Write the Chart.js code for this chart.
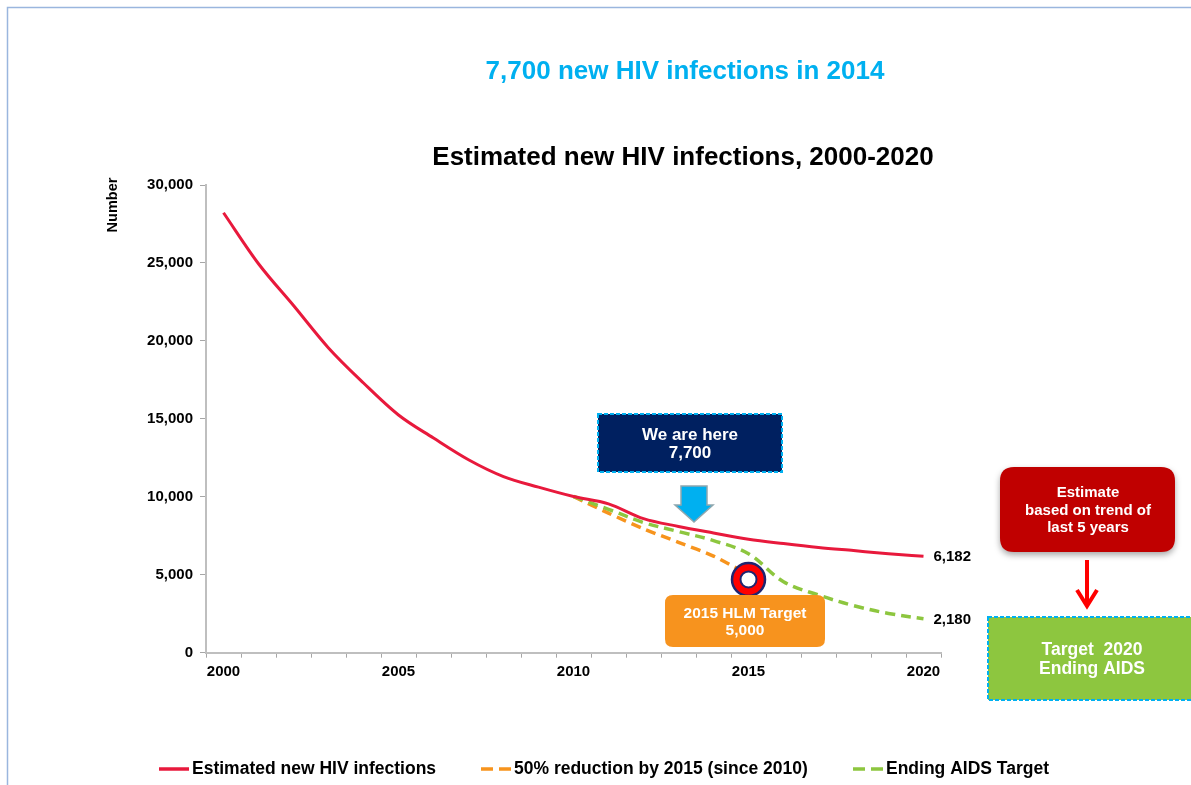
<!DOCTYPE html>
<html><head><meta charset="utf-8">
<script src="https://cdn.jsdelivr.net/npm/chart.js@4.4.1/dist/chart.umd.min.js"></script>
<style>html,body{margin:0;padding:0;background:#fff;overflow:hidden}canvas{display:block}</style>
</head><body>
<canvas id="c" width="1191" height="785"></canvas>
<script>
const years = ['2000','2001','2002','2003','2004','2005','2006','2007','2008','2009','2010','2011','2012','2013','2014','2015','2016','2017','2018','2019','2020'];
const estimatedInfections = [28220, 24950, 22270, 19550, 17300, 15250, 13770, 12380, 11300, 10620, 10020, 9550, 8600, 8100, 7680, 7280, 7000, 6750, 6550, 6350, 6182];
const halfReduction2015 = [null, null, null, null, null, null, null, null, null, null, 10020, 8950, 7950, 7080, 6200, 5000, null, null, null, null, null];
const endingAidsTarget = [null, null, null, null, null, null, null, null, null, null, 10020, 9200, 8350, 7770, 7190, 6350, 4550, 3700, 3020, 2520, 2180];
const hlmTargetMarker = [null, null, null, null, null, null, null, null, null, null, null, null, null, null, null, 4700, null, null, null, null, null];
const yTicks = [0, 5000, 10000, 15000, 20000, 25000, 30000];
const shownYearLabels = ['2000','2005','2010','2015','2020'];
const endLabels = ['6,182', '2,180'];

const FONT = '"Liberation Sans", Arial, Helvetica, sans-serif';

function roundRect(ctx, x, y, w, h, r) {
  ctx.beginPath();
  ctx.moveTo(x + r, y);
  ctx.lineTo(x + w - r, y);
  ctx.quadraticCurveTo(x + w, y, x + w, y + r);
  ctx.lineTo(x + w, y + h - r);
  ctx.quadraticCurveTo(x + w, y + h, x + w - r, y + h);
  ctx.lineTo(x + r, y + h);
  ctx.quadraticCurveTo(x, y + h, x, y + h - r);
  ctx.lineTo(x, y + r);
  ctx.quadraticCurveTo(x, y, x + r, y);
  ctx.closePath();
}

const decorations = {
  id: 'decorations',
  beforeDraw(chart) {
    const ctx = chart.ctx;
    ctx.save();
    ctx.fillStyle = '#fff';
    ctx.fillRect(0, 0, chart.width, chart.height);
    ctx.strokeStyle = '#9ab6de';
    ctx.lineWidth = 1.5;
    ctx.beginPath();
    ctx.moveTo(7.5, 790); ctx.lineTo(7.5, 7.5); ctx.lineTo(1195, 7.5);
    ctx.stroke();
    ctx.restore();
  },
  afterDraw(chart) {
    const ctx = chart.ctx;
    const xs = chart.scales.x, ys = chart.scales.y;
    ctx.save();
    ctx.textAlign = 'center';
    ctx.textBaseline = 'middle';
    ctx.fillStyle = '#00b0f0';
    ctx.font = 'bold 26px ' + FONT;
    ctx.fillText('7,700 new HIV infections in 2014', 685, 72);
    ctx.fillStyle = '#000';
    ctx.font = 'bold 26px ' + FONT;
    ctx.fillText('Estimated new HIV infections, 2000-2020', 683, 158);
    ctx.save();
    ctx.translate(113, 205);
    ctx.rotate(-Math.PI / 2);
    ctx.font = 'bold 14.5px ' + FONT;
    ctx.fillText('Number', 0, 0);
    ctx.restore();

    ctx.textAlign = 'left';
    ctx.font = 'bold 15px ' + FONT;
    const last = years.length - 1;
    ctx.fillText(endLabels[0], xs.getPixelForValue(last) + 10, ys.getPixelForValue(estimatedInfections[last]) + 1);
    ctx.fillText(endLabels[1], xs.getPixelForValue(last) + 10, ys.getPixelForValue(endingAidsTarget[last]) + 1);

    ctx.textAlign = 'center';
    ctx.fillStyle = '#002060';
    ctx.fillRect(598, 414, 184, 58);
    ctx.setLineDash([4, 2]);
    ctx.strokeStyle = '#00b0f0';
    ctx.lineWidth = 2;
    ctx.strokeRect(598, 414, 184, 58);
    ctx.setLineDash([]);
    ctx.fillStyle = '#fff';
    ctx.font = 'bold 17px ' + FONT;
    ctx.fillText('We are here', 690, 435);
    ctx.fillText('7,700', 690, 453);

    ctx.beginPath();
    ctx.moveTo(681, 486); ctx.lineTo(707, 486); ctx.lineTo(707, 505);
    ctx.lineTo(713, 505); ctx.lineTo(694, 522); ctx.lineTo(675, 505);
    ctx.lineTo(681, 505); ctx.closePath();
    ctx.fillStyle = '#00b0f0';
    ctx.fill();
    ctx.strokeStyle = '#8fa7ae';
    ctx.lineWidth = 1.5;
    ctx.stroke();

    roundRect(ctx, 665, 595, 160, 52, 8);
    ctx.fillStyle = '#f7931e';
    ctx.fill();
    ctx.fillStyle = '#fff';
    ctx.font = 'bold 15.5px ' + FONT;
    ctx.fillText('2015 HLM Target', 745, 614);
    ctx.fillText('5,000', 745, 631);

    ctx.save();
    ctx.shadowColor = 'rgba(0,0,0,0.35)';
    ctx.shadowBlur = 6;
    ctx.shadowOffsetY = 3;
    roundRect(ctx, 1000, 467, 175, 85, 14);
    ctx.fillStyle = '#c00000';
    ctx.fill();
    ctx.restore();
    ctx.fillStyle = '#fff';
    ctx.font = 'bold 15px ' + FONT;
    ctx.fillText('Estimate', 1088, 493);
    ctx.fillText('based on trend of', 1088, 511);
    ctx.fillText('last 5 years', 1088, 528);

    ctx.strokeStyle = '#ff0000';
    ctx.lineWidth = 4;
    ctx.lineCap = 'butt';
    ctx.beginPath();
    ctx.moveTo(1087, 560); ctx.lineTo(1087, 604);
    ctx.stroke();
    ctx.lineJoin = 'miter';
    ctx.beginPath();
    ctx.moveTo(1077, 590); ctx.lineTo(1087, 606); ctx.lineTo(1097, 590);
    ctx.stroke();

    ctx.fillStyle = '#8dc63f';
    ctx.fillRect(988, 617, 210, 83);
    ctx.setLineDash([4, 2]);
    ctx.strokeStyle = '#00b0f0';
    ctx.lineWidth = 2;
    ctx.strokeRect(988, 617, 210, 83);
    ctx.setLineDash([]);
    ctx.fillStyle = '#fff';
    ctx.font = 'bold 17.5px ' + FONT;
    ctx.fillText('Target  2020', 1092, 650);
    ctx.fillText('Ending AIDS', 1092, 669);

    const items = [
      {ds: 0, x: 159},
      {ds: 1, x: 481},
      {ds: 2, x: 853}
    ];
    ctx.font = 'bold 17.5px ' + FONT;
    ctx.textAlign = 'left';
    items.forEach(it => {
      const d = chart.data.datasets[it.ds];
      ctx.strokeStyle = d.borderColor;
      ctx.lineWidth = 3.5;
      ctx.setLineDash(d.borderDash ? [12, 6] : []);
      ctx.beginPath();
      ctx.moveTo(it.x, 769); ctx.lineTo(it.x + 30, 769);
      ctx.stroke();
      ctx.setLineDash([]);
      ctx.fillStyle = '#000';
      ctx.fillText(d.label, it.x + 33, 769);
    });
    ctx.restore();
  }
};

new Chart(document.getElementById('c'), {
  type: 'line',
  data: {
    labels: years,
    datasets: [
      {label: 'Estimated new HIV infections', data: estimatedInfections, borderColor: '#e8193c', borderWidth: 3, pointRadius: 0, tension: 0.4, cubicInterpolationMode: 'monotone', order: 1},
      {label: '50% reduction by 2015 (since 2010)', data: halfReduction2015, borderColor: '#f7941d', borderWidth: 3.5, borderDash: [10, 6], pointRadius: 0, tension: 0.3, order: 3},
      {label: 'Ending AIDS Target', data: endingAidsTarget, borderColor: '#8dc63f', borderWidth: 3.5, borderDash: [10, 6], pointRadius: 0, tension: 0.35, order: 2},
      {label: 'HLM ring', data: hlmTargetMarker, showLine: false, pointRadius: 16.5, pointBackgroundColor: '#ff0000', pointBorderColor: '#1f2570', pointBorderWidth: 2.5, order: -1},
      {label: 'HLM ring inner', data: hlmTargetMarker, showLine: false, pointRadius: 8, pointBackgroundColor: '#ffffff', pointBorderColor: '#1f2570', pointBorderWidth: 2, order: -2}
    ]
  },
  options: {
    responsive: false,
    animation: false,
    devicePixelRatio: 1,
    layout: {padding: {top: 185, right: 250, bottom: 0, left: 0}},
    plugins: {legend: {display: false}, tooltip: {enabled: false}, title: {display: false}},
    scales: {
      x: {
        type: 'category',
        offset: true,
        afterFit(s) { s.height = 132.3; },
        grid: {offset: true, drawOnChartArea: false, drawTicks: true, tickLength: 5, color: '#a6a6a6', lineWidth: 1},
        border: {color: '#bfbfbf', width: 2},
        ticks: {
          autoSkip: false, maxRotation: 0, padding: 5, color: '#000',
          font: {family: FONT, size: 15, weight: 'bold'},
          callback(v) { const l = years[v]; return shownYearLabels.includes(l) ? l : ''; }
        }
      },
      y: {
        min: 0, max: 30000,
        afterFit(s) { s.width = 206; },
        afterBuildTicks(s) { s.ticks = yTicks.map(v => ({value: v})); },
        grid: {drawOnChartArea: false, drawTicks: true, tickLength: 6, color: '#a6a6a6'},
        border: {color: '#bfbfbf', width: 2},
        ticks: {
          padding: 7, color: '#000',
          font: {family: FONT, size: 15, weight: 'bold'},
          callback(v) { return v.toLocaleString('en-US'); }
        }
      }
    }
  },
  plugins: [decorations]
});
</script>
</body></html>
